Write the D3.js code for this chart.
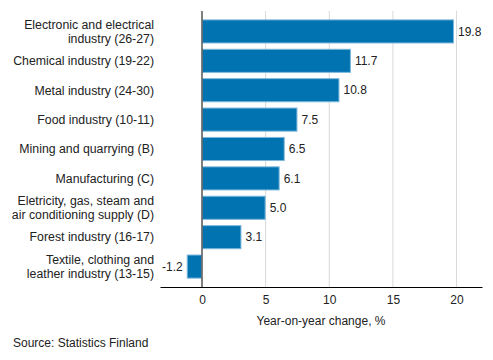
<!DOCTYPE html>
<html><head><meta charset="utf-8">
<script src="https://cdn.jsdelivr.net/npm/d3@7"></script>
<style>body{margin:0;background:#fff}svg{display:block;font-family:"Liberation Sans",Arial,sans-serif}</style>
</head><body><svg id="c" width="493" height="360"></svg>
<script>
const categories = [
  ["Electronic and electrical", "industry (26-27)"],
  ["Chemical industry (19-22)"],
  ["Metal industry (24-30)"],
  ["Food industry (10-11)"],
  ["Mining and quarrying (B)"],
  ["Manufacturing (C)"],
  ["Eletricity, gas, steam and", "air conditioning supply (D)"],
  ["Forest industry (16-17)"],
  ["Textile, clothing and", "leather industry (13-15)"]
];
const values = [19.8, 11.7, 10.8, 7.5, 6.5, 6.1, 5.0, 3.1, -1.2];
const xTicks = [0, 5, 10, 15, 20];
const xTitle = "Year-on-year change, %";
const source = "Source: Statistics Finland";

(function () {
const svg = d3.select("#c");
const mL = 160, mR = 482, mT = 11, mB = 287;
const x = d3.scaleLinear().domain([-3.3, 22]).range([mL, mR]);
const y = d3.scaleBand().domain(d3.range(values.length)).range([mT, mB]).paddingInner(0.18).paddingOuter(0.285);

// gridlines
svg.append("g").selectAll("line").data(xTicks.filter(d => d !== 0)).join("line")
  .attr("x1", d => x(d)).attr("x2", d => x(d)).attr("y1", mT).attr("y2", mB)
  .attr("stroke", "#d9d9d9").attr("stroke-width", 1);

// bars
svg.append("g").selectAll("rect").data(values).join("rect")
  .attr("x", d => x(Math.min(0, d)) + 0.5)
  .attr("y", (d, i) => y(i) + 0.5)
  .attr("width", d => Math.abs(x(d) - x(0)) - 1)
  .attr("height", y.bandwidth() - 1)
  .attr("fill", "#0073b0").attr("stroke", "#7fb8dc").attr("stroke-width", 1);

// zero line
svg.append("line").attr("x1", x(0)).attr("x2", x(0)).attr("y1", mT).attr("y2", mB)
  .attr("stroke", "#555").attr("stroke-width", 1.5);

// value labels
svg.append("g").selectAll("text").data(values).join("text")
  .attr("x", d => d >= 0 ? x(d) + 4 : x(d) - 4)
  .attr("y", (d, i) => y(i) + y.bandwidth() / 2)
  .attr("dy", "0.35em")
  .attr("text-anchor", d => d >= 0 ? "start" : "end")
  .attr("font-size", 12).attr("fill", "#222")
  .text(d => d.toFixed(1));

// category labels
const cl = svg.append("g").selectAll("text").data(categories).join("text")
  .attr("x", 154)
  .attr("y", (d, i) => y(i) + y.bandwidth() / 2)
  .attr("text-anchor", "end").attr("font-size", 12.3).attr("fill", "#222");
cl.each(function(d) {
  const t = d3.select(this);
  const n = d.length;
  d.forEach((s, k) => {
    t.append("tspan").attr("x", 154)
      .attr("dy", k === 0 ? ((0.35 - (n - 1) * 0.58) + "em") : "1.16em")
      .text(s);
  });
});

// x axis
const ax = svg.append("g").attr("transform", `translate(0,${mB})`)
  .call(d3.axisBottom(x).tickValues(xTicks).tickSize(0).tickPadding(8));
ax.select(".domain").attr("stroke", "#000").attr("stroke-width", 1.2);
ax.selectAll("text").attr("font-size", 12).attr("fill", "#222").attr("font-family", "Liberation Sans, Arial, sans-serif");

svg.append("text").attr("x", (mL + mR) / 2).attr("y", 325)
  .attr("text-anchor", "middle").attr("font-size", 12).attr("fill", "#222").text(xTitle);

svg.append("text").attr("x", 13).attr("y", 347).attr("font-size", 12).attr("fill", "#222").text(source);
})();
</script></body></html>
